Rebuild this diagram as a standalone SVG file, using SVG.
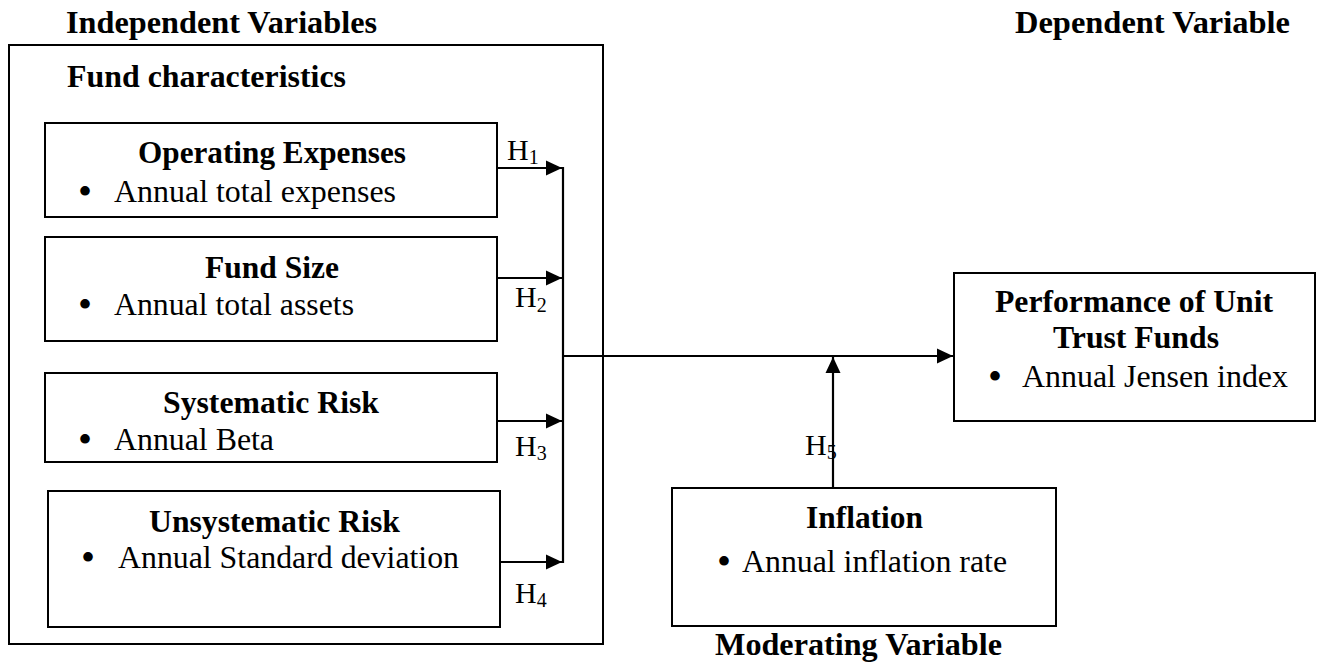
<svg xmlns="http://www.w3.org/2000/svg" width="1322" height="664" viewBox="0 0 1322 664">
<defs>
<style>
text{font-family:"Liberation Serif","Times New Roman",serif;fill:#000;}
.b{font-weight:bold;font-size:31px;}
.r{font-size:31px;}
.h{font-size:30px;}
.s{font-size:20px;}
.bul{font-size:40px;}
.box{fill:#fff;stroke:#000;stroke-width:2;}
.ln{fill:none;stroke:#000;stroke-width:2.2;}
</style>
<marker id="ah" viewBox="0 0 16 16" refX="16" refY="8" markerWidth="16" markerHeight="16" markerUnits="userSpaceOnUse" orient="auto">
<path d="M0,0.5 L16,8 L0,15.5 Z" fill="#000"/>
</marker>
</defs>
<rect width="1322" height="664" fill="#fff"/>

<g id="labels">
<text class="b" x="66" y="33" textLength="311" lengthAdjust="spacingAndGlyphs">Independent Variables</text>
<text class="b" x="1015" y="33" textLength="275" lengthAdjust="spacingAndGlyphs">Dependent Variable</text>
<text class="b" x="715" y="655" textLength="287" lengthAdjust="spacingAndGlyphs">Moderating Variable</text>
</g>

<g id="fund-characteristics">
<rect class="box" x="9" y="45" width="594" height="599"/>
<text class="b" x="67" y="87" textLength="279" lengthAdjust="spacingAndGlyphs">Fund characteristics</text>
</g>

<g id="operating-expenses">
<rect class="box" x="45" y="123" width="452" height="94"/>
<text class="b" x="138" y="163" textLength="268" lengthAdjust="spacingAndGlyphs">Operating Expenses</text>
<text class="bul" x="78" y="205">•</text>
<text class="r" x="114" y="202" textLength="282" lengthAdjust="spacingAndGlyphs">Annual total expenses</text>
</g>

<g id="fund-size">
<rect class="box" x="45" y="237" width="452" height="104"/>
<text class="b" x="205" y="278" textLength="134" lengthAdjust="spacingAndGlyphs">Fund Size</text>
<text class="bul" x="78" y="318">•</text>
<text class="r" x="114" y="315" textLength="240" lengthAdjust="spacingAndGlyphs">Annual total assets</text>
</g>

<g id="systematic-risk">
<rect class="box" x="45" y="373" width="452" height="89"/>
<text class="b" x="163" y="413" textLength="216" lengthAdjust="spacingAndGlyphs">Systematic Risk</text>
<text class="bul" x="78" y="453">•</text>
<text class="r" x="114" y="450" textLength="160" lengthAdjust="spacingAndGlyphs">Annual Beta</text>
</g>

<g id="unsystematic-risk">
<rect class="box" x="48" y="491" width="452" height="136"/>
<text class="b" x="149" y="532" textLength="251" lengthAdjust="spacingAndGlyphs">Unsystematic Risk</text>
<text class="bul" x="81" y="571">•</text>
<text class="r" x="118" y="568" textLength="341" lengthAdjust="spacingAndGlyphs">Annual Standard deviation</text>
</g>

<g id="performance">
<rect class="box" x="954" y="273" width="361" height="148"/>
<text class="b" x="995" y="312" textLength="278" lengthAdjust="spacingAndGlyphs">Performance of Unit</text>
<text class="b" x="1053" y="348" textLength="166" lengthAdjust="spacingAndGlyphs">Trust Funds</text>
<text class="bul" x="988" y="390">•</text>
<text class="r" x="1022" y="387" textLength="266" lengthAdjust="spacingAndGlyphs">Annual Jensen index</text>
</g>

<g id="inflation">
<rect class="box" x="672" y="488" width="384" height="138"/>
<text class="b" x="806" y="528" textLength="117" lengthAdjust="spacingAndGlyphs">Inflation</text>
<text class="bul" x="717" y="575">•</text>
<text class="r" x="742" y="572" textLength="265" lengthAdjust="spacingAndGlyphs">Annual inflation rate</text>
</g>

<g id="connectors">
<line class="ln" x1="497" y1="168" x2="562" y2="168" marker-end="url(#ah)"/>
<line class="ln" x1="497" y1="278" x2="562" y2="278" marker-end="url(#ah)"/>
<line class="ln" x1="497" y1="421" x2="562" y2="421" marker-end="url(#ah)"/>
<line class="ln" x1="500" y1="562" x2="562" y2="562" marker-end="url(#ah)"/>
<line class="ln" x1="563" y1="167" x2="563" y2="563"/>
<line class="ln" x1="563" y1="356" x2="953" y2="356" marker-end="url(#ah)"/>
<line class="ln" x1="833" y1="488" x2="833" y2="357" marker-end="url(#ah)"/>
<text class="h" x="507" y="160">H<tspan class="s" dy="4">1</tspan></text>
<text class="h" x="515" y="307">H<tspan class="s" dy="5">2</tspan></text>
<text class="h" x="515" y="456">H<tspan class="s" dy="4">3</tspan></text>
<text class="h" x="515" y="603">H<tspan class="s" dy="4">4</tspan></text>
<text class="h" x="805" y="455">H<tspan class="s" dy="4">5</tspan></text>
</g>
</svg>
